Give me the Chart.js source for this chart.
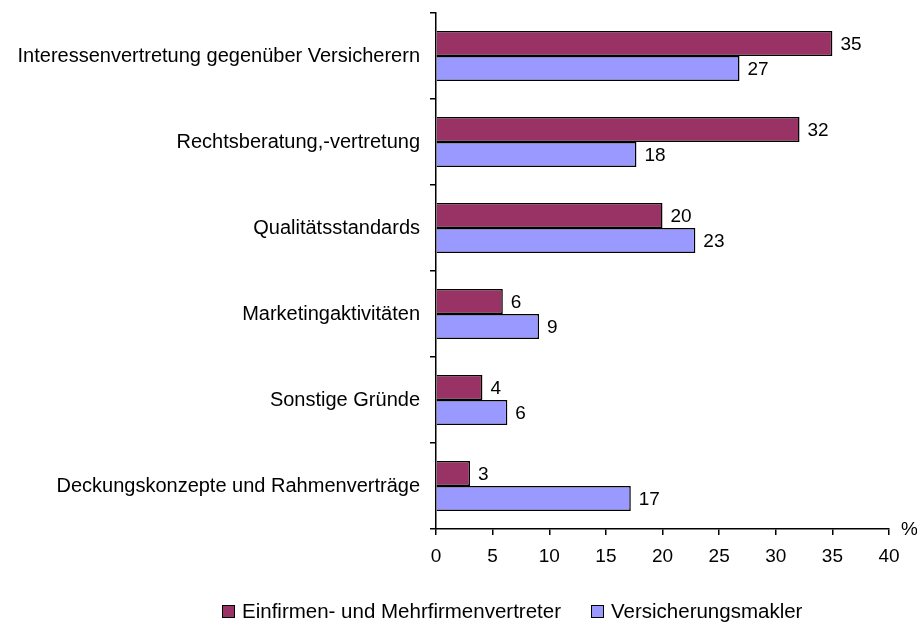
<!DOCTYPE html>
<html>
<head>
<meta charset="utf-8">
<script src="https://cdn.jsdelivr.net/npm/chart.js@4"></script>
<style>
  body { margin: 0; background: #fff; }
  #wrap { position: relative; width: 917px; height: 626px; }
  #legend { position: absolute; left: 222px; top: 599px; display: flex; font: 20.5px "Liberation Sans", Arial, sans-serif; color: #000; }
  .item { display: flex; align-items: center; margin-right: 30px; }
  .box { width: 11px; height: 11px; border: 1.5px solid #000; margin-right: 7px; }
</style>
</head>
<body>
<div id="wrap">
  <canvas id="chart" width="917" height="626"></canvas>
  <div id="legend"></div>
</div>
<script>
// Werte (Prozent)
const categories = [
    'Interessenvertretung gegenüber Versicherern',
    'Rechtsberatung,-vertretung',
    'Qualitätsstandards',
    'Marketingaktivitäten',
    'Sonstige Gründe',
    'Deckungskonzepte und Rahmenverträge'
];
const seriesNames = ['Einfirmen- und Mehrfirmenvertreter', 'Versicherungsmakler'];
const vertreter = [35, 32.1, 20, 5.9, 4.1, 3];
const makler = [26.8, 17.7, 22.9, 9.1, 6.3, 17.2];
const colors = ['#993366', '#9999ff'];
const xTicks = [0, 5, 10, 15, 20, 25, 30, 35, 40];

const font = '"Liberation Sans", Arial, sans-serif';

const valueLabels = {
    id: 'valueLabels',
    afterDatasetsDraw(chart) {
        const ctx = chart.ctx;
        ctx.save();
        ctx.font = '19px ' + font;
        ctx.fillStyle = '#000';
        ctx.textBaseline = 'middle';
        chart.data.datasets.forEach((ds, i) => {
            chart.getDatasetMeta(i).data.forEach((bar, j) => {
                ctx.fillText(Math.round(ds.data[j]), bar.x + 8, bar.y + 1);
            });
        });
        // Einheit an der x-Achse
        const area = chart.chartArea;
        ctx.fillText('%', area.right + 12, area.bottom + 1);
        ctx.restore();
    }
};

const chart = new Chart(document.getElementById('chart'), {
    type: 'bar',
    data: {
        labels: categories,
        datasets: [
            { label: seriesNames[0], data: vertreter, backgroundColor: colors[0], borderColor: '#000', borderWidth: 1.5 },
            { label: seriesNames[1], data: makler, backgroundColor: colors[1], borderColor: '#000', borderWidth: 1.5 }
        ]
    },
    options: {
        indexAxis: 'y',
        responsive: false,
        animation: false,
        layout: { padding: { top: 13, right: 28, bottom: 57, left: 0 } },
        datasets: { bar: { barPercentage: 1, categoryPercentage: 0.58 } },
        plugins: { legend: { display: false }, tooltip: { enabled: false } },
        scales: {
            x: {
                min: 0, max: 40,
                afterBuildTicks: s => { s.ticks = xTicks.map(v => ({ value: v })); },
                afterFit: s => { s.height = 40; s.paddingLeft = 0; s.paddingRight = 0; },
                grid: { drawOnChartArea: false, color: '#000', tickLength: 6, lineWidth: 1.5 },
                border: { color: '#000', width: 1.5 },
                ticks: { color: '#000', font: { family: font, size: 19 }, padding: 10 }
            },
            y: {
                afterFit: s => { s.width = 436; s.paddingTop = 0; s.paddingBottom = 0; },
                grid: { drawOnChartArea: false, color: '#000', tickLength: 6, lineWidth: 1.5, offset: true },
                border: { color: '#000', width: 1.5 },
                ticks: { color: '#000', font: { family: font, size: 20 }, padding: 10 }
            }
        }
    },
    plugins: [valueLabels]
});

// Legende als HTML unter dem Diagramm
const legend = document.getElementById('legend');
seriesNames.forEach((name, i) => {
    const item = document.createElement('div');
    item.className = 'item';
    item.innerHTML = '<span class="box" style="background:' + colors[i] + '"></span>' + name;
    legend.appendChild(item);
});
</script>
</body>
</html>
